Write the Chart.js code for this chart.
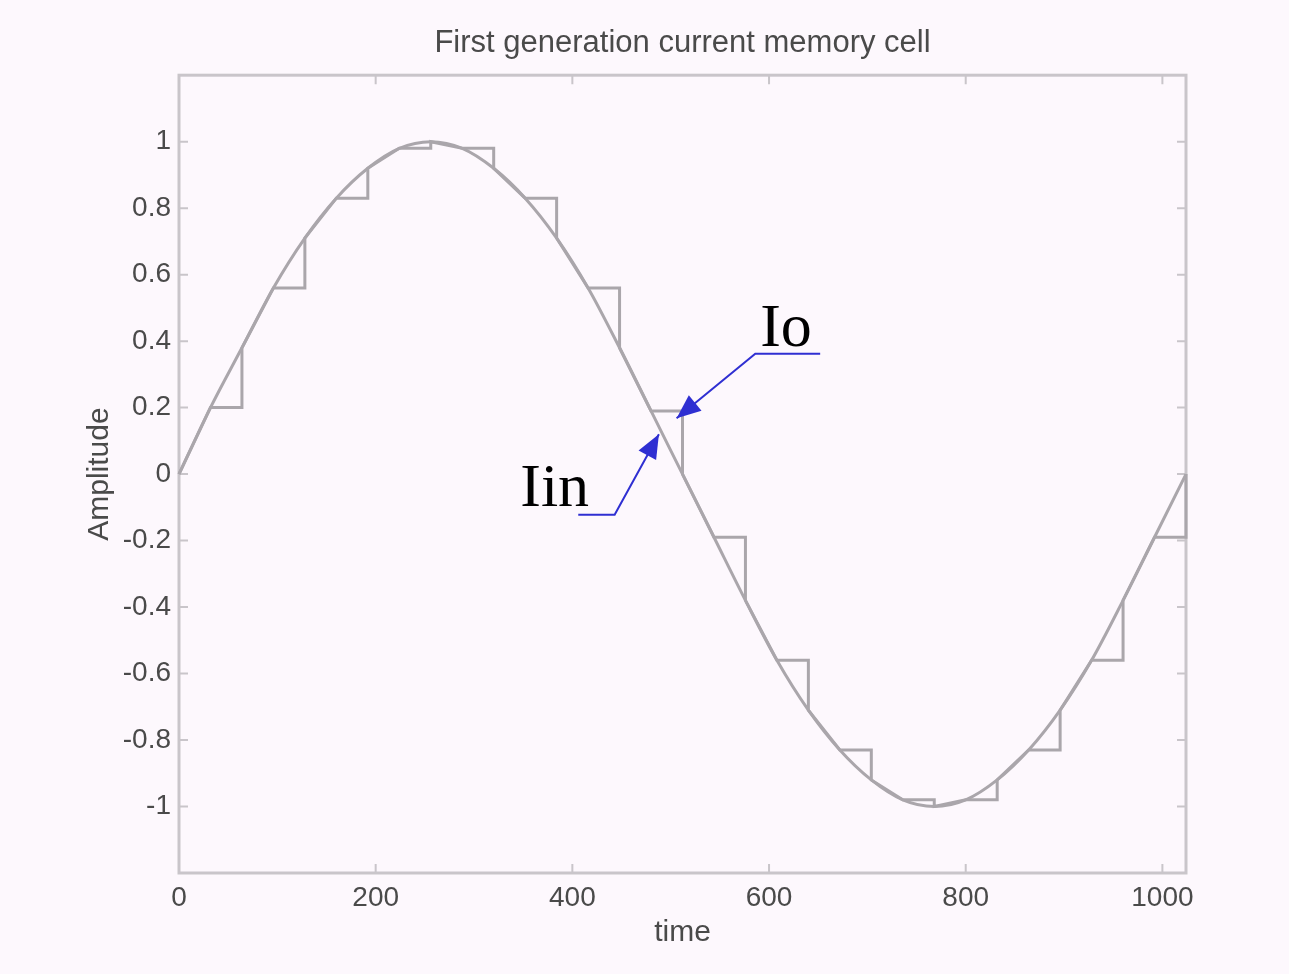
<!DOCTYPE html>
<html>
<head>
<meta charset="utf-8">
<script src="https://cdn.jsdelivr.net/npm/chart.js@4/dist/chart.umd.min.js"></script>
<style>
  html, body { margin: 0; padding: 0; background: #fdf8fd; }
  #wrap { width: 1289px; height: 974px; }
</style>
</head>
<body>
<div id="wrap"><canvas id="c" width="1289" height="974"></canvas></div>
<script>
// input current, every 32 samples
const iinTime = [0, 32, 64, 96, 128, 160, 192, 224, 256, 288, 320, 352, 384, 416, 448, 480, 512,
  544, 576, 608, 640, 672, 704, 736, 768, 800, 832, 864, 896, 928, 960, 992, 1024];
const iinAmp = [0, 0.2, 0.38, 0.56, 0.71, 0.83, 0.92, 0.98, 1, 0.98, 0.92, 0.83, 0.71, 0.56, 0.38, 0.19, 0,
  -0.19, -0.38, -0.56, -0.71, -0.83, -0.92, -0.98, -1, -0.98, -0.92, -0.83, -0.71, -0.56, -0.38, -0.19, 0];

// output current: tracks for half a period, holds for the other half
const ioTime = [0, 32, 64, 64, 96, 128, 128, 160, 192, 192, 224, 256, 256, 288, 320, 320, 352, 384, 384,
  416, 448, 448, 480, 512, 512, 544, 576, 576, 608, 640, 640, 672, 704, 704, 736, 768, 768,
  800, 832, 832, 864, 896, 896, 928, 960, 960, 992, 1024, 1024];
const ioAmp = [0, 0.2, 0.2, 0.38, 0.56, 0.56, 0.71, 0.83, 0.83, 0.92, 0.98, 0.98, 1, 0.98, 0.98, 0.92, 0.83, 0.83, 0.71,
  0.56, 0.56, 0.38, 0.19, 0.19, 0, -0.19, -0.19, -0.38, -0.56, -0.56, -0.71, -0.83, -0.83, -0.92, -0.98, -0.98, -1,
  -0.98, -0.98, -0.92, -0.83, -0.83, -0.71, -0.56, -0.56, -0.38, -0.19, -0.19, 0];

const xTicks = [0, 200, 400, 600, 800, 1000];
const xTickLabels = ['0', '200', '400', '600', '800', '1000'];
const yTicks = [-1, -0.8, -0.6, -0.4, -0.2, 0, 0.2, 0.4, 0.6, 0.8, 1];
const yTickLabels = ['-1', '-0.8', '-0.6', '-0.4', '-0.2', '0', '0.2', '0.4', '0.6', '0.8', '1'];

// callout labels, anchored in data units
const callouts = [
  { text: 'Io', textAt: [591, 0.386], path: [[652, 0.362], [586, 0.362], [506, 0.168]] },
  { text: 'Iin', textAt: [347, -0.095], path: [[406, -0.1225], [443, -0.1225], [488, 0.12]] }
];

const frameColor = '#c9c5ca';
const lineColor = '#aaa6ab';
const textColor = '#4a4a4a';
const sans = '"Liberation Sans", Arial, sans-serif';

const toPts = (xs, ys) => xs.map((x, i) => ({ x: x, y: ys[i] }));

const framePlugin = {
  id: 'frame',
  beforeDraw(chart) {
    const ctx = chart.ctx;
    ctx.save();
    ctx.fillStyle = '#fdf8fd';
    ctx.fillRect(0, 0, chart.width, chart.height);
    ctx.restore();
  },
  beforeDatasetsDraw(chart) {
    const { ctx, chartArea: a, scales } = chart;
    ctx.save();
    ctx.strokeStyle = frameColor;
    ctx.lineWidth = 2;
    const len = 9;
    ctx.beginPath();
    xTicks.forEach(v => {
      const px = scales.x.getPixelForValue(v);
      ctx.moveTo(px, a.bottom); ctx.lineTo(px, a.bottom - len);
      ctx.moveTo(px, a.top); ctx.lineTo(px, a.top + len);
    });
    yTicks.forEach(v => {
      const py = scales.y.getPixelForValue(v);
      ctx.moveTo(a.left, py); ctx.lineTo(a.left + len, py);
      ctx.moveTo(a.right, py); ctx.lineTo(a.right - len, py);
    });
    ctx.stroke();
    ctx.lineWidth = 3;
    ctx.strokeRect(a.left, a.top, a.right - a.left, a.bottom - a.top);
    ctx.restore();
  },
  afterDatasetsDraw(chart) {
    const { ctx, scales } = chart;
    const px = p => [scales.x.getPixelForValue(p[0]), scales.y.getPixelForValue(p[1])];
    ctx.save();
    callouts.forEach(c => {
      const pts = c.path.map(px);
      ctx.strokeStyle = '#2f2fd2';
      ctx.fillStyle = '#2f2fd2';
      ctx.lineWidth = 2;
      ctx.beginPath();
      ctx.moveTo(pts[0][0], pts[0][1]);
      for (let i = 1; i < pts.length; i++) ctx.lineTo(pts[i][0], pts[i][1]);
      ctx.stroke();
      // arrow head
      const tip = pts[pts.length - 1], prev = pts[pts.length - 2];
      const ang = Math.atan2(tip[1] - prev[1], tip[0] - prev[0]);
      const hl = 24, hw = 10;
      const bx = tip[0] - hl * Math.cos(ang), by = tip[1] - hl * Math.sin(ang);
      ctx.beginPath();
      ctx.moveTo(tip[0], tip[1]);
      ctx.lineTo(bx + hw * Math.sin(ang), by - hw * Math.cos(ang));
      ctx.lineTo(bx - hw * Math.sin(ang), by + hw * Math.cos(ang));
      ctx.closePath();
      ctx.fill();
      // label
      const t = px(c.textAt);
      ctx.fillStyle = '#000';
      ctx.font = '62px "Liberation Serif", "Times New Roman", serif';
      ctx.textAlign = 'left';
      ctx.textBaseline = 'alphabetic';
      ctx.fillText(c.text, t[0], t[1]);
    });
    ctx.restore();
  }
};

new Chart(document.getElementById('c'), {
  type: 'scatter',
  data: {
    datasets: [
      {
        label: 'Iin',
        data: toPts(iinTime, iinAmp),
        showLine: true,
        borderColor: lineColor,
        borderWidth: 3,
        pointRadius: 0,
        cubicInterpolationMode: 'monotone',
        clip: false
      },
      {
        label: 'Io',
        data: toPts(ioTime, ioAmp),
        showLine: true,
        borderColor: lineColor,
        borderWidth: 3,
        pointRadius: 0,
        tension: 0,
        clip: false
      }
    ]
  },
  options: {
    responsive: false,
    animation: false,
    layout: { padding: { left: 0, right: 103, top: 0, bottom: 0 } },
    plugins: {
      legend: { display: false },
      tooltip: { enabled: false },
      title: {
        display: true,
        fullSize: false,
        text: 'First generation current memory cell',
        color: textColor,
        font: { family: sans, size: 31, weight: 'normal' },
        padding: { top: 25, bottom: 13 }
      }
    },
    scales: {
      x: {
        type: 'linear',
        min: 0,
        max: 1024,
        afterBuildTicks: s => { s.ticks = xTicks.map(v => ({ value: v })); },
        afterFit: s => { s.height = 101; },
        grid: { display: false, drawTicks: false },
        border: { display: false },
        ticks: {
          color: textColor,
          font: { family: sans, size: 28 },
          padding: 8,
          maxRotation: 0,
          autoSkip: false,
          callback: v => xTickLabels[xTicks.indexOf(v)] ?? ''
        },
        title: {
          display: true,
          text: 'time',
          color: textColor,
          font: { family: sans, size: 30 },
          padding: { top: 0, bottom: 23 }
        }
      },
      y: {
        type: 'linear',
        min: -1.2,
        max: 1.2,
        afterBuildTicks: s => { s.ticks = yTicks.map(v => ({ value: v })); },
        afterFit: s => { s.width = 179; },
        grid: { display: false, drawTicks: false },
        border: { display: false },
        ticks: {
          color: textColor,
          font: { family: sans, size: 28 },
          padding: 8,
          autoSkip: false,
          callback: v => yTickLabels[yTicks.indexOf(v)] ?? ''
        },
        title: {
          display: true,
          text: 'Amplitude',
          color: textColor,
          font: { family: sans, size: 30 },
          padding: { top: 82, bottom: 0 }
        }
      }
    }
  },
  plugins: [framePlugin]
});
</script>
</body>
</html>
